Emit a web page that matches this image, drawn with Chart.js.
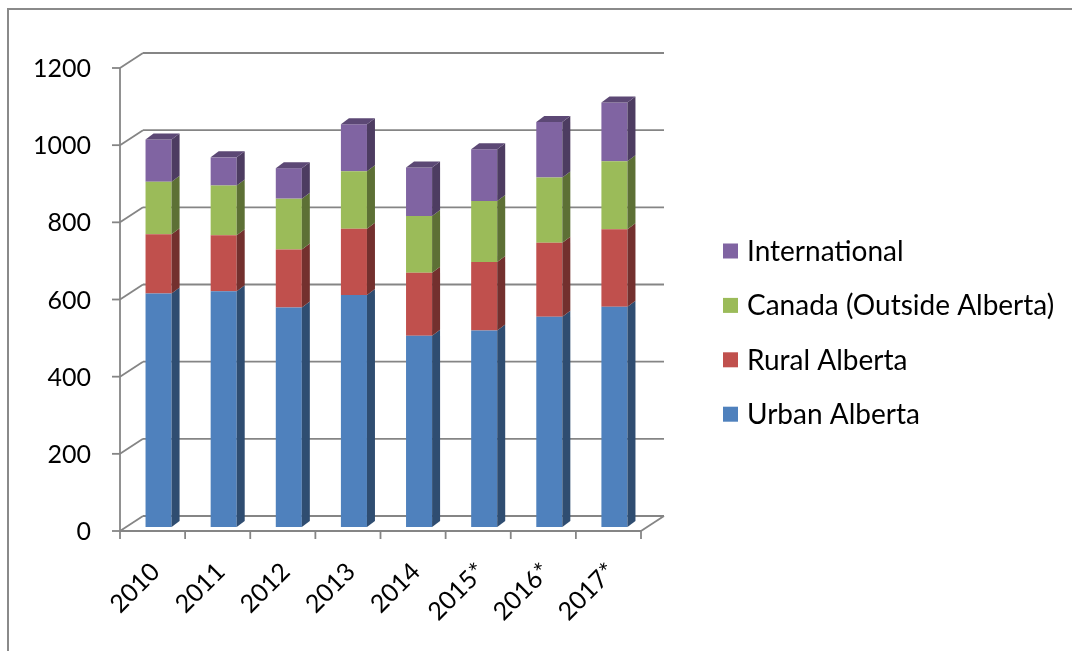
<!DOCTYPE html>
<html>
<head>
<meta charset="utf-8">
<script src="https://cdn.jsdelivr.net/npm/chart.js@4.4.1/dist/chart.umd.min.js"></script>
<style>
  html, body { margin: 0; padding: 0; background: #fff; }
  canvas { display: block; }
</style>
</head>
<body>
<canvas id="chart" width="1072" height="651"></canvas>
<script>
var years = ['2010', '2011', '2012', '2013', '2014', '2015*', '2016*', '2017*'];
var urbanAlberta = [605, 611, 569, 601, 496, 509, 545, 571];
var ruralAlberta = [154, 145, 150, 172, 163, 178, 192, 201];
var canadaOutside = [136, 129, 132, 149, 147, 158, 169, 176];
var international = [109, 73, 79, 122, 126, 134, 144, 152];
var yTicks = [0, 200, 400, 600, 800, 1000, 1200];

var seriesNames = ['Urban Alberta', 'Rural Alberta', 'Canada (Outside Alberta)', 'International'];
var seriesData = [urbanAlberta, ruralAlberta, canadaOutside, international];
var colors = ['#4F81BD', '#C0504D', '#9BBB59', '#8064A2'];

var FONT = 'Lato, "Open Sans", sans-serif';

// darken a hex colour by factor f
function shade(hex, f) {
    var n = parseInt(hex.slice(1), 16),
        r = Math.round(((n >> 16) & 255) * f),
        g = Math.round(((n >> 8) & 255) * f),
        b = Math.round((n & 255) * f);
    return 'rgb(' + r + ',' + g + ',' + b + ')';
}

// offsets of the front and back planes from the plane the bars sit in
var plane = { fx: -6, fy: 4, bx: 17, by: -11 };
var barDepth = { dx: 8, dy: -6 };

function line(ctx, x1, y1, x2, y2) {
    ctx.beginPath();
    ctx.moveTo(x1, y1);
    ctx.lineTo(x2, y2);
    ctx.stroke();
}

var frame3d = {
    id: 'frame3d',
    beforeDraw: function(chart) {
        var ctx = chart.ctx;
        ctx.save();
        ctx.strokeStyle = '#8a8a8a';
        ctx.lineWidth = 2;
        ctx.strokeRect(8, 9, 2000, 2000);
        ctx.restore();
    },
    beforeDatasetsDraw: function(chart) {
        var ctx = chart.ctx, a = chart.chartArea,
            xs = chart.scales.x, ys = chart.scales.y,
            base = ys.getPixelForValue(0);
        ctx.save();
        ctx.strokeStyle = '#858585';
        ctx.lineWidth = 1.8;
        ys.ticks.forEach(function(t) {
            var py = ys.getPixelForValue(t.value);
            line(ctx, a.left + plane.fx - 8, py + plane.fy, a.left + plane.fx, py + plane.fy);
            line(ctx, a.left + plane.fx, py + plane.fy, a.left + plane.bx, py + plane.by);
            line(ctx, a.left + plane.bx, py + plane.by, a.right + plane.bx, py + plane.by);
        });
        var topPx = ys.getPixelForValue(yTicks[yTicks.length - 1]);
        line(ctx, a.left + plane.fx, base + plane.fy, a.left + plane.fx, topPx + plane.fy);
        line(ctx, a.left + plane.fx, base + plane.fy, a.right + plane.fx, base + plane.fy);
        line(ctx, a.right + plane.fx, base + plane.fy, a.right + plane.bx, base + plane.by);
        for (var i = 0; i <= years.length; i++) {
            var px = xs.getPixelForValue(i - 0.5) + plane.fx;
            line(ctx, px, base + plane.fy, px, base + plane.fy + 8);
        }
        ctx.restore();
    },
    afterDatasetsDraw: function(chart) {
        var ctx = chart.ctx, last = chart.data.datasets.length - 1;
        ctx.save();
        chart.data.datasets.forEach(function(ds, d) {
            var meta = chart.getDatasetMeta(d);
            meta.data.forEach(function(bar) {
                var p = bar.getProps(['x', 'y', 'base', 'width'], true),
                    l = p.x - p.width / 2, r = p.x + p.width / 2,
                    t = Math.min(p.y, p.base), b = Math.max(p.y, p.base);
                ctx.fillStyle = shade(ds.backgroundColor, 0.6);
                ctx.beginPath();
                ctx.moveTo(r, t);
                ctx.lineTo(r + barDepth.dx, t + barDepth.dy);
                ctx.lineTo(r + barDepth.dx, b + barDepth.dy);
                ctx.lineTo(r, b);
                ctx.closePath();
                ctx.fill();
                if (d === last) {
                    ctx.fillStyle = shade(ds.backgroundColor, 0.72);
                    ctx.beginPath();
                    ctx.moveTo(l, t);
                    ctx.lineTo(l + barDepth.dx, t + barDepth.dy);
                    ctx.lineTo(r + barDepth.dx, t + barDepth.dy);
                    ctx.lineTo(r, t);
                    ctx.closePath();
                    ctx.fill();
                }
            });
        });
        ctx.restore();
    },
    afterDraw: function(chart) {
        // legend, top series first
        var ctx = chart.ctx, a = chart.chartArea,
            lx = a.right + 76, ly = 251, step = 54.4;
        ctx.save();
        ctx.font = '28px ' + FONT;
        ctx.textBaseline = 'middle';
        ctx.textAlign = 'left';
        chart.data.datasets.slice().reverse().forEach(function(ds, i) {
            var cy = ly + i * step;
            ctx.fillStyle = ds.backgroundColor;
            ctx.fillRect(lx, cy - 7.5, 15, 15);
            ctx.fillStyle = '#000';
            ctx.fillText(ds.label, lx + 24, cy + 1);
        });
        ctx.restore();
    }
};

var datasets = seriesNames.map(function(name, i) {
    return {
        label: name,
        data: seriesData[i],
        backgroundColor: colors[i],
        borderWidth: 0,
        barPercentage: 0.4,
        categoryPercentage: 1
    };
});

new Chart(document.getElementById('chart').getContext('2d'), {
    type: 'bar',
    data: { labels: years, datasets: datasets },
    plugins: [frame3d],
    options: {
        responsive: false,
        animation: false,
        events: [],
        layout: { padding: { top: 64, right: 425, bottom: 0, left: 0 } },
        plugins: { legend: { display: false }, tooltip: { enabled: false } },
        scales: {
            x: {
                stacked: true,
                grid: { display: false, drawTicks: false },
                border: { display: false },
                ticks: {
                    color: '#000',
                    font: { family: FONT, size: 25 },
                    minRotation: 45,
                    maxRotation: 45,
                    padding: 30,
                    labelOffset: -3
                },
                afterFit: function(s) { s.height = 124; }
            },
            y: {
                stacked: true,
                min: 0,
                max: 1200,
                grid: { display: false, drawTicks: false },
                border: { display: false },
                ticks: {
                    color: '#000',
                    font: { family: FONT, size: 25 },
                    padding: 35,
                    labelOffset: 5,
                    callback: function(v) { return String(v); }
                },
                afterBuildTicks: function(s) {
                    s.ticks = yTicks.map(function(v) { return { value: v }; });
                },
                afterFit: function(s) { s.width = 126; }
            }
        }
    }
});
</script>
</body>
</html>
